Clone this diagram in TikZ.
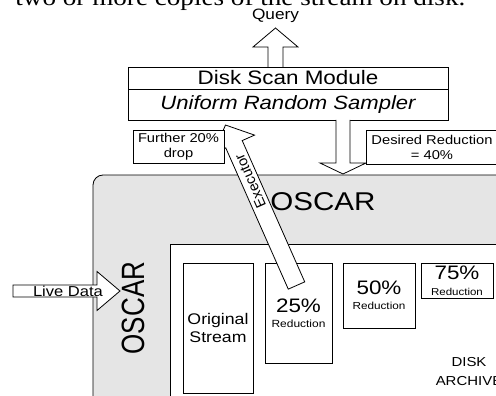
\documentclass[tikz,border=0pt]{standalone}
\usepackage{graphicx}
\usepackage{fontspec}
\setmainfont{Liberation Sans}[FakeStretch=1.15]
\newfontfamily\plainsf{Liberation Sans}
\newfontfamily\bodyserif{Liberation Serif}[FakeStretch=1.15]
\usetikzlibrary{calc}

\newcommand{\fsz}[2]{\fontsize{#1pt}{#2pt}\selectfont}

\tikzset{
  box/.style={draw, fill=white, inner sep=0pt, outer sep=0pt, align=center, anchor=north west},
  txt/.style={inner sep=0pt, align=center},
  blockarrow/.style={draw, fill=white, line join=miter}
}

\begin{document}
\begin{tikzpicture}[x=1pt, y=1pt, yscale=-1, line width=0.8pt]
\useasboundingbox (0,0) rectangle (496,396);
\clip (0,0) rectangle (496,396);
\node[inner sep=0pt, anchor=base west, font=\bodyserif\fsz{23.6}{28}] (bodytext) at (15,5.5) {two or more copies of the stream on disk.};
\node[txt, font=\fsz{15}{18}] (query) at (275.5,16) {Query};
\node[box, minimum width=320pt, minimum height=22pt, font=\fsz{19.5}{22}] (diskscan) at (128,67) {Disk Scan Module};
\node[box, minimum width=320pt, minimum height=31pt, font=\itshape\fsz{19.2}{22}] (sampler) at (diskscan.south west) {Uniform Random Sampler};
\draw[blockarrow] ($(diskscan.north)+(-20,0)$) -- ++(0,-20) -- ++(-15,0) -- ++(22.5,-19) -- ++(22.5,19) -- ++(-15,0) -- ++(0,20);
\node[box, fill=gray!20, rounded corners=10pt, minimum width=450pt, minimum height=250pt] (oscar) at (93,175) {};
\node[txt, rotate=90, font=\plainsf\fsz{26}{30}] (oscarside) at (133,308) {\scalebox{1}[1.24]{OSCAR}};
\node[box, minimum width=400pt, minimum height=200pt] (archive) at (170,244) {};
\node[box, minimum width=70pt, minimum height=130pt, font=\fsz{15.4}{18}] (orig) at (183,263) {Original\\Stream};
\node[box, minimum width=67pt, minimum height=100pt, font=\fsz{19.5}{15}] (red25) at (265,263) {25\%\\{\fsz{10.4}{12}Reduction}};
\node[box, minimum width=72pt, minimum height=65pt, font=\fsz{19.5}{15}] (red50) at (343,263) {50\%\\{\fsz{10.2}{12}Reduction}};
\node[box, minimum width=72pt, minimum height=35pt, font=\fsz{19.5}{16}] (red75) at (421,263) {75\%\\{\fsz{10}{12}Reduction}};
\node[txt, font=\fsz{13}{19}] (disklabel) at (469,372) {DISK\\ARCHIVE};
\draw[blockarrow] ($(sampler.south)+(48,0)$) -- ++(0,43) -- ++(-16,0) -- ++(23,11) -- ++(23,-11) -- ++(-16,0) -- ++(0,-43);
\draw[blockarrow] (13,285) -- (97,285) -- (97,271.5) -- (120,291) -- (97,310.5) -- (97,297) -- (13,297) -- cycle;
\node[txt, font=\fsz{14.4}{17}] (live) at (68,291) {Live Data};
\begin{scope}[shift={(296.5,285.5)}, rotate=-113.87]
\draw[blockarrow] (0,-9) -- (154.5,-9) -- (154.5,-22.5) -- (175.5,0) -- (154.5,22.5) -- (154.5,9) -- (0,9) -- cycle;
\node[txt, rotate=113.87, font=\plainsf\fsz{14.5}{17}] (executor) at (114,0) {Executor};
\end{scope}
\node[box, minimum width=91pt, minimum height=33pt, font=\fsz{12.8}{15}] (further) at (133,130) {Further 20\%\\drop};
\node[box, minimum width=160pt, minimum height=34pt] (desired) at (366,130) {};
\node[txt, font=\fsz{12.8}{15}] (desiredtext) at (432,147) {Desired Reduction\\= 40\%};
\node[txt, font=\fsz{25.7}{30}] (oscarlabel) at (323,202) {OSCAR};
\end{tikzpicture}
\end{document}
